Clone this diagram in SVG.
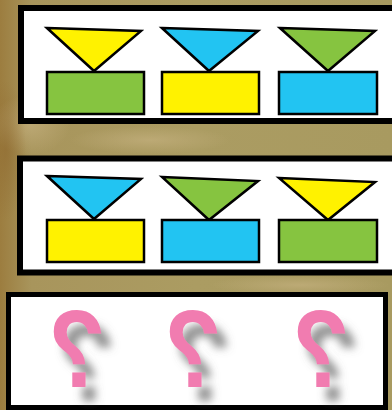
<svg xmlns="http://www.w3.org/2000/svg" width="392" height="410" viewBox="0 0 392 410">
  <defs>
    <linearGradient id="bg" x1="0" y1="0" x2="1" y2="0">
      <stop offset="0" stop-color="#9c7d3f"/>
      <stop offset="0.08" stop-color="#a8955c"/>
      <stop offset="0.5" stop-color="#ab9c62"/>
      <stop offset="1" stop-color="#a89a60"/>
    </linearGradient>
    <radialGradient id="spot1" cx="0.5" cy="0.5" r="0.5">
      <stop offset="0" stop-color="#c4b07e" stop-opacity="0.7"/>
      <stop offset="1" stop-color="#c4b07e" stop-opacity="0"/>
    </radialGradient>
    <radialGradient id="spot2" cx="0.5" cy="0.5" r="0.5">
      <stop offset="0" stop-color="#8f6a30" stop-opacity="0.6"/>
      <stop offset="1" stop-color="#8f6a30" stop-opacity="0"/>
    </radialGradient>
    <filter id="shadow" x="-50%" y="-50%" width="200%" height="200%">
      <feDropShadow dx="10" dy="14" stdDeviation="4.5" flood-color="#666" flood-opacity="0.7"/>
    </filter>
  </defs>
  <style>
    .panel { fill: #ffffff; stroke: #000000; }
    .shape { stroke: #000000; stroke-width: 2.5; stroke-linejoin: miter; }
    .y { fill: #fff200; }
    .b { fill: #22c4f2; }
    .g { fill: #86c440; }
    .qm { font-family: "Liberation Sans", Arial, sans-serif; font-weight: bold; font-size: 110px; fill: #f17cb0; text-anchor: middle; }
  </style>

  <!-- background -->
  <rect x="0" y="0" width="392" height="410" fill="url(#bg)"/>
  <ellipse cx="30" cy="125" rx="40" ry="30" fill="url(#spot1)"/>
  <ellipse cx="6" cy="150" rx="20" ry="70" fill="url(#spot2)"/>
  <ellipse cx="150" cy="140" rx="80" ry="14" fill="url(#spot1)"/>
  <ellipse cx="300" cy="285" rx="90" ry="10" fill="url(#spot1)"/>

  <!-- panel 1 -->
  <g id="panel1">
    <rect class="panel" x="21" y="8" width="390" height="113" stroke-width="6"/>
  </g>
  <g id="p1-item1">
    <polygon class="shape y" points="47,28 141,31 94,71"/>
    <rect class="shape g" x="47" y="72" width="97" height="42"/>
  </g>
  <g id="p1-item2">
    <polygon class="shape b" points="162,28 258,31 209,71"/>
    <rect class="shape y" x="162" y="72" width="97" height="42"/>
  </g>
  <g id="p1-item3">
    <polygon class="shape g" points="280,28 375,31 328,71"/>
    <rect class="shape b" x="279" y="72" width="98" height="42"/>
  </g>

  <!-- panel 2 -->
  <g id="panel2">
    <rect class="panel" x="20" y="158.5" width="390" height="114" stroke-width="6"/>
  </g>
  <g id="p2-item1">
    <polygon class="shape b" points="47,176 141,179 94,219"/>
    <rect class="shape y" x="47" y="220" width="97" height="42"/>
  </g>
  <g id="p2-item2">
    <polygon class="shape g" points="162,177 258,181 209,220"/>
    <rect class="shape b" x="162" y="220" width="97" height="42"/>
  </g>
  <g id="p2-item3">
    <polygon class="shape y" points="279,178 375,182 328,220"/>
    <rect class="shape g" x="279" y="220" width="98" height="42"/>
  </g>

  <!-- panel 3 -->
  <g id="panel3">
    <rect class="panel" x="8.5" y="294.5" width="377" height="113" stroke-width="5"/>
  </g>
  <g id="q1" filter="url(#shadow)">
    <text class="qm" transform="translate(77,387) scale(-0.85,1)" x="0" y="0">?</text>
  </g>
  <g id="q2" filter="url(#shadow)">
    <text class="qm" transform="translate(193,387) scale(-0.85,1)" x="0" y="0">?</text>
  </g>
  <g id="q3" filter="url(#shadow)">
    <text class="qm" transform="translate(321,387) scale(-0.85,1)" x="0" y="0">?</text>
  </g>
</svg>
